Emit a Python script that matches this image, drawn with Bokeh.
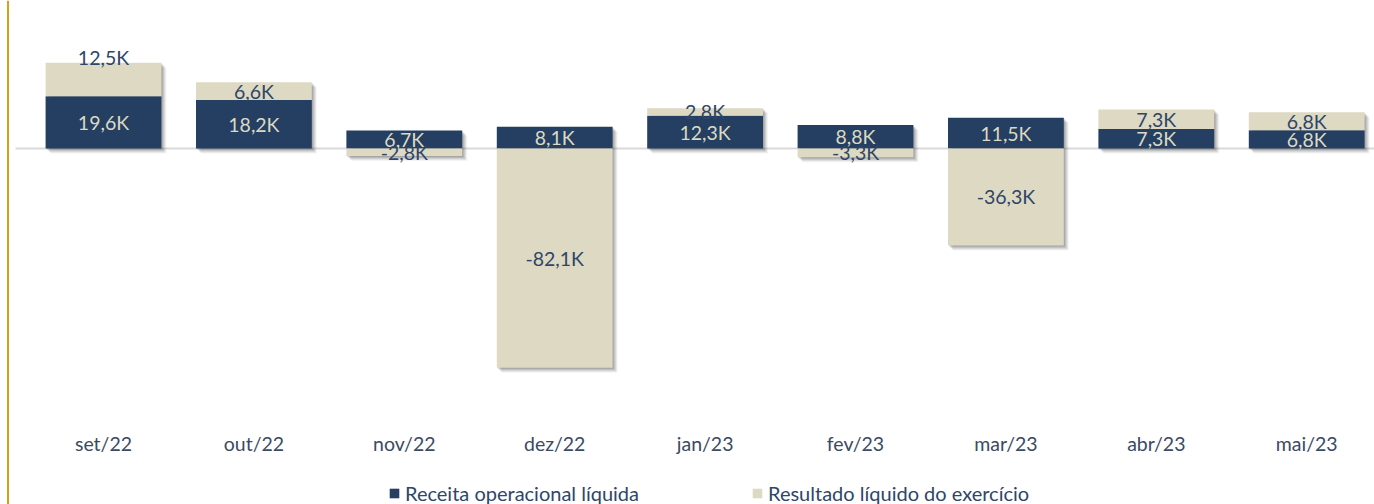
from bokeh.plotting import figure
from bokeh.models import Range1d, Span, Legend, LegendItem, ColumnDataSource
from bokeh.core.properties import value
from bokeh.embed import file_html
from bokeh.resources import INLINE

# ---- data ----
months = ["set/22", "out/22", "nov/22", "dez/22", "jan/23", "fev/23", "mar/23", "abr/23", "mai/23"]
receita = [19.6, 18.2, 6.7, 8.1, 12.3, 8.8, 11.5, 7.3, 6.8]
resultado = [12.5, 6.6, -2.8, -82.1, 2.8, -3.3, -36.3, 7.3, 6.8]
receita_labels = ["19,6K", "18,2K", "6,7K", "8,1K", "12,3K", "8,8K", "11,5K", "7,3K", "6,8K"]
resultado_labels = ["12,5K", "6,6K", "-2,8K", "-82,1K", "2,8K", "-3,3K", "-36,3K", "7,3K", "6,8K"]

NAVY = "#243F61"
BEIGE = "#DDD9C3"
LABEL_NAVY = "#2E4668"
AXIS_TXT = "#3B4A63"
GOLD = "#D4A21A"
FONT = "Lato"
FS = "19.5px"

W, H = 1374, 504
PX_PER_CAT = 150.4
PX_PER_K = 2.67
x_start = -103 / PX_PER_CAT
x_end = x_start + W / PX_PER_CAT
y_end = 148 / PX_PER_K
y_start = y_end - H / PX_PER_K
px_x = 1 / PX_PER_CAT
px_y = 1 / PX_PER_K

p = figure(width=W, height=H, output_backend="svg", toolbar_location=None,
           x_range=Range1d(x_start, x_end), y_range=Range1d(y_start, y_end),
           min_border=0, x_axis_location=None, y_axis_location=None)
p.outline_line_color = None
p.grid.visible = False
p.background_fill_color = "white"
p.border_fill_color = "white"

xs = list(range(len(months)))
bar_w = 0.77

nav_bottom = [0.0] * len(xs)
nav_top = receita
res_bottom = [r if v >= 0 else v for r, v in zip(receita, resultado)]
res_top = [r + v if v >= 0 else 0.0 for r, v in zip(receita, resultado)]
col_top = [max(a, b) for a, b in zip(nav_top, res_top)]
col_bot = [min(a, b) for a, b in zip(nav_bottom, res_bottom)]

# left gold rule and zero baseline
p.add_layout(Span(location=x_start + 7.5 * px_x, dimension="height",
                  line_color=GOLD, line_width=2))
p.segment(x0=[x_start + 15 * px_x], x1=[x_end], y0=[0], y1=[0],
          line_color="#D9D9D9", line_width=2)

# ---- shadows ----
for k, a in [(1, 0.16), (2, 0.14), (3, 0.12), (4, 0.10), (5, 0.06)]:
    p.vbar(x=[x + k * px_x for x in xs], width=bar_w,
           top=[t - k * px_y for t in col_top], bottom=[b - k * px_y for b in col_bot],
           fill_color="#404040", fill_alpha=a, line_color=None)

r_nav = p.vbar(x=xs, width=bar_w, bottom=nav_bottom, top=nav_top,
               fill_color=NAVY, line_color=None)
r_res = p.vbar(x=xs, width=bar_w, bottom=res_bottom, top=res_top,
               fill_color=BEIGE, line_color=None)

# ---- value labels ----
nav_src = ColumnDataSource(dict(x=xs, y=[(a + b) / 2 for a, b in zip(nav_bottom, nav_top)],
                                t=receita_labels))
p.text(x="x", y="y", text="t", source=nav_src, text_align="center", text_baseline="middle",
       text_color=BEIGE, text_font=value(FONT), text_font_size=FS)

res_dy = [0.0] * len(xs)
res_dy[0] = -22.0  # first label sits above its segment in the original
res_src = ColumnDataSource(dict(x=xs, y=[(a + b) / 2 for a, b in zip(res_bottom, res_top)],
                                t=resultado_labels, dy=res_dy))
p.text(x="x", y="y", text="t", source=res_src, y_offset="dy", text_align="center",
       text_baseline="middle", text_color=LABEL_NAVY, text_font=value(FONT),
       text_font_size=FS)

# ---- category labels (x axis) ----
cat_src = ColumnDataSource(dict(x=xs, y=[-295 * px_y] * len(xs), t=months))
p.text(x="x", y="y", text="t", source=cat_src, text_align="center", text_baseline="middle",
       text_color=AXIS_TXT, text_font=value(FONT), text_font_size=FS)

# ---- legend ----
legend = Legend(items=[LegendItem(label="Receita operacional líquida", renderers=[r_nav]),
                       LegendItem(label="Resultado líquido do exercício", renderers=[r_res])],
                orientation="horizontal", location=(388, -1),
                glyph_width=12, glyph_height=12, label_standoff=5, spacing=112,
                label_text_font=FONT, label_text_font_size="20px",
                label_text_color=LABEL_NAVY, border_line_color=None,
                background_fill_alpha=0, padding=0, margin=0)
p.add_layout(legend)

open("out.html", "w").write(file_html(p, INLINE))
